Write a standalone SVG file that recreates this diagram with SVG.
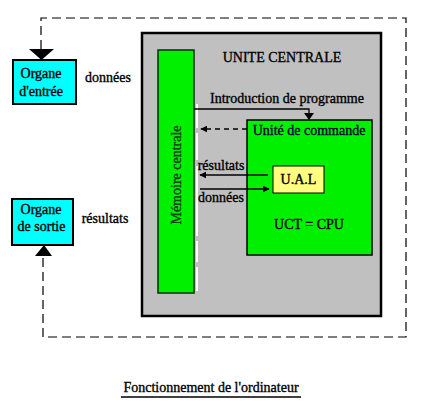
<svg xmlns="http://www.w3.org/2000/svg" width="430" height="407" viewBox="0 0 430 407">
<style>
text{font-family:"Liberation Serif","Times New Roman",serif;font-size:14px;fill:#000;stroke:#000;stroke-width:0.35}
.mid{text-anchor:middle}
.dash{fill:none;stroke:#000;stroke-width:1.2;stroke-dasharray:9 5}
.ln{fill:none;stroke:#000;stroke-width:1.3}
.head{fill:#000}
</style>
<defs>
<marker id="ah" viewBox="0 0 10 10" refX="9" refY="5" markerWidth="7" markerHeight="7" markerUnits="userSpaceOnUse" orient="auto">
<path d="M0,0 L10,5 L0,10 z" fill="#000"/>
</marker>
</defs>
<rect width="430" height="407" fill="#fff"/>

<g id="unite-centrale">
<rect x="142" y="33" width="239" height="283" fill="#c0c0c0" stroke="#000" stroke-width="2.5"/>
<text x="282" y="62" class="mid">UNITE CENTRALE</text>
</g>

<g id="memoire-centrale">
<rect x="158" y="50" width="36" height="243" fill="#00f000" stroke="#003000" stroke-width="1.5"/>
<path d="M197,104 V128 M197,133 V160 M197,166 V236 M197,241 V262 M197,267 V291" stroke="#fff" stroke-width="2" fill="none"/>
<text transform="translate(181,175) rotate(-90)" class="mid" style="fill:#004000;stroke:#004000">Mémoire centrale</text>
</g>

<g id="unite-commande">
<rect x="247" y="120" width="125" height="135" fill="#00f000" stroke="#000" stroke-width="1.5"/>
<text x="309" y="135" class="mid" style="fill:#000033;stroke:#000033">Unité de commande</text>
<text x="309" y="229" class="mid">UCT = CPU</text>
</g>

<g id="ual">
<rect x="273" y="166" width="51" height="27" fill="#ffff80" stroke="#000" stroke-width="1"/>
<text x="298.5" y="184" class="mid">U.A.L</text>
</g>

<g id="organe-entree">
<rect x="13" y="60" width="63" height="44" fill="#00ffff" stroke="#000" stroke-width="2"/>
<text x="41" y="78" class="mid">Organe</text>
<text x="41" y="96" class="mid">d'entrée</text>
</g>

<g id="organe-sortie">
<rect x="12" y="199" width="61" height="46" fill="#00ffff" stroke="#000" stroke-width="2"/>
<text x="41" y="214" class="mid">Organe</text>
<text x="41.5" y="231" class="mid">de sortie</text>
</g>

<g id="connectors">
<path class="dash" d="M41,49 V18 H406 V337 H43 V256"/>
<polygon class="head" points="29,49 54,49 41.5,60"/>
<polygon class="head" points="35,256 52,256 44,245"/>
<path class="ln" d="M194,109 H309 V114" stroke-width="1.6"/>
<polygon class="head" points="304,113 314,113 309,120"/>
<path class="ln" d="M247,129 H201" stroke-dasharray="5 4" marker-end="url(#ah)"/>
<path class="ln" d="M268,175 H200" marker-end="url(#ah)"/>
<path class="ln" d="M200,189 H269" marker-end="url(#ah)"/>
</g>

<g id="labels">
<text x="108" y="82" class="mid">données</text>
<text x="105" y="223" class="mid">résultats</text>
<text x="287" y="103" class="mid">Introduction de programme</text>
<text x="221" y="170" class="mid">résultats</text>
<text x="221" y="202" class="mid">données</text>
</g>

<g id="caption">
<text x="211" y="392" class="mid">Fonctionnement de l'ordinateur</text>
<line x1="121" y1="397" x2="301" y2="397" stroke="#000" stroke-width="1.5"/>
</g>
</svg>
